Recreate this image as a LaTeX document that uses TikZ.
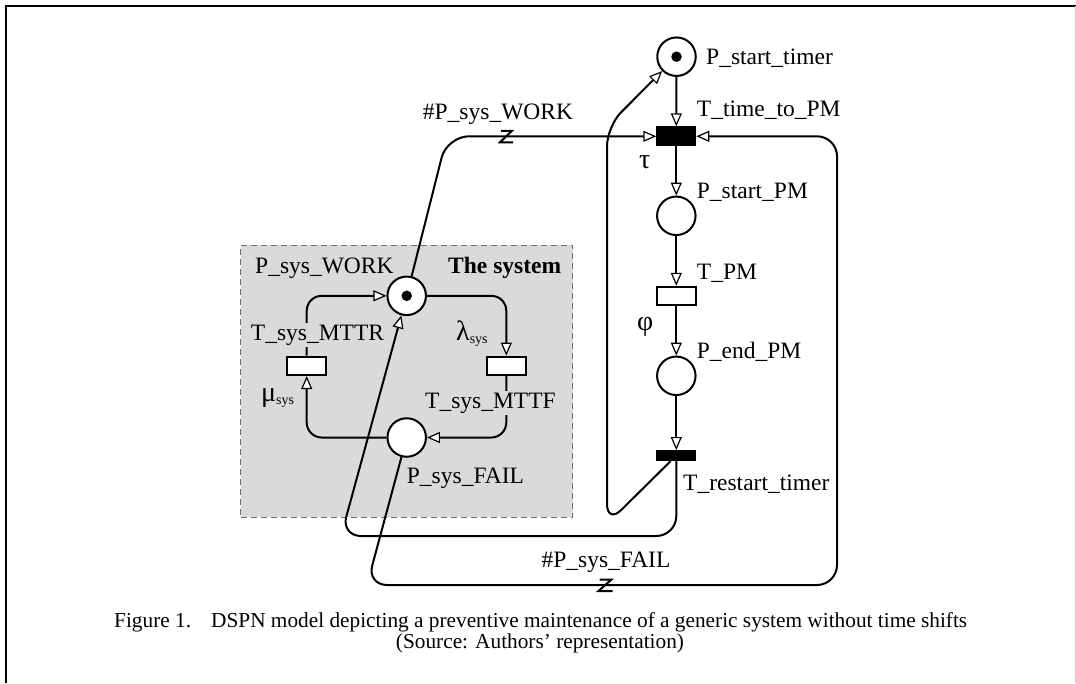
\documentclass[tikz,border=0pt]{standalone}
\usepackage{fontspec}
\setmainfont{Liberation Serif}
\usetikzlibrary{arrows.meta}
\definecolor{boxgray}{RGB}{218,218,218}
\definecolor{dashgray}{RGB}{110,110,110}
\newcommand{\grk}[1]{{\fontsize{28}{28}\selectfont #1}}
\newcommand{\subsys}{\raisebox{-3pt}{\fontsize{14}{14}\selectfont sys}}
\begin{document}
\begin{tikzpicture}[x=1pt,y=-1pt,
  lbl/.style={font=\fontsize{23.5}{26}\selectfont, inner sep=0pt},
  captxt/.style={font=\fontsize{21.3}{24}\selectfont, inner sep=0pt},
  place/.style={circle,draw,line width=2pt,minimum size=38.5pt,inner sep=0pt,fill=white},
  ttrans/.style={rectangle,draw,line width=2pt,minimum width=39pt,minimum height=18.5pt,inner sep=0pt,fill=white},
  dtrans/.style={rectangle,draw,fill=black,line width=1pt,minimum width=39pt,minimum height=19pt,inner sep=0pt},
  itrans/.style={rectangle,draw,fill=black,line width=1pt,minimum width=39pt,minimum height=10pt,inner sep=0pt},
  token/.style={circle,fill=black,minimum size=10.5pt,inner sep=0pt},
  arc/.style={line width=2pt,-{Triangle[fill=white,length=13pt,width=11pt,line width=1.2pt]}},
  zmark/.style={line width=2pt},
]
\useasboundingbox (0,0) rectangle (1076,683);
% frame
\draw[line width=2.4pt] (6,683) -- (6,6) -- (1076,6);
\draw[line width=0.8pt,gray!40] (1075.5,6) -- (1075.5,683);
% system box
\node[draw=dashgray,dash pattern=on 6pt off 4pt,line width=1pt,fill=boxgray,minimum width=332pt,minimum height=272pt,inner sep=0pt] (sysbox) at (406.7,381) {};
% places and transitions
\node[place] (Ps) at (676.5,56.7) {};
\node[dtrans] (Tt) at (676.3,136.3) {};
\node[place] (Psp) at (676.3,215.8) {};
\node[ttrans] (Tpm) at (676.3,296) {};
\node[place] (Pep) at (676.3,375.8) {};
\node[itrans] (Tr) at (676.3,455.5) {};
\node[place] (Pw) at (406.7,295.8) {};
\node[place] (Pf) at (406.7,437.5) {};
\node[ttrans] (Tm) at (306.7,365.8) {};
\node[ttrans] (Tf) at (506.3,365.8) {};
\node[token] (kw) at (Pw) {};
\node[token] (ks) at (Ps) {};
% column arcs
\draw[arc] (Ps) -- (Tt);
\draw[arc] (Tt) -- (Psp);
\draw[arc] (Psp) -- (Tpm);
\draw[arc] (Tpm) -- (Pep);
\draw[arc] (Pep) -- (Tr);
% system loop
\draw[arc,rounded corners=15pt] (Tm.north) -- (306.7,295.8) -- (Pw.west);
\draw[arc,rounded corners=15pt] (Pw.east) -- (506.3,295.8) -- (Tf.north);
\draw[arc,rounded corners=15pt] (Tf.south) -- (506.3,437.5) -- (Pf.east);
\draw[arc,rounded corners=15pt] (Pf.west) -- (306.7,437.5) -- (Tm.south);
% long arcs
\draw[arc,rounded corners=22pt] (Pw) -- (447,136.3) -- (Tt.west);
\draw[arc,rounded corners=20pt] (Tr) -- (607,524) -- (607,126.4) -- (Ps);
\draw[arc,rounded corners=20pt] (Tr.south) -- (676.3,536) -- (341,536) -- (Pw);
\draw[arc,rounded corners=20pt] (Pf) -- (367,585) -- (837,585) -- (837,136.3) -- (Tt.east);
% z marks
\coordinate (z1) at (506.5,136.3);
\coordinate (z2) at (606,585);
\draw[zmark] (z1) ++(-5.5,-5.5) -- ++(11,0) -- ++(-12,11.5) -- ++(13,0);
\draw[zmark] (z2) ++(-6.5,-5.5) -- ++(12,0) -- ++(-13,11.5) -- ++(14,0);
% labels
\node[lbl,anchor=base west] (lPs) at (706,64) {P\_start\_timer};
\node[lbl,anchor=base west] (lTt) at (696.7,116.5) {T\_time\_to\_PM};
\node[lbl,anchor=base west] (ltau) at (639,168) {\grk{τ}};
\node[lbl,anchor=base west] (lPsp) at (696.7,198.3) {P\_start\_PM};
\node[lbl,anchor=base west] (lTpm) at (696.7,279) {T\_PM};
\node[lbl,anchor=base west] (lphi) at (637,330) {\grk{φ}};
\node[lbl,anchor=base west] (lPep) at (696.7,358.3) {P\_end\_PM};
\node[lbl,anchor=base west] (lTr) at (683,490) {T\_restart\_timer};
\node[lbl,anchor=base] (lw) at (498,119) {\#P\_sys\_WORK};
\node[lbl,anchor=base] (lf) at (606,567) {\#P\_sys\_FAIL};
\node[lbl,anchor=base west] (lPw) at (255,273.3) {P\_sys\_WORK};
\node[lbl,anchor=base west] (lsys) at (448,273.3) {\bfseries The system};
\node[lbl,anchor=base west,fill=boxgray,inner ysep=2pt] (lTm) at (250.7,340) {T\_sys\_MTTR};
\node[lbl,anchor=base west] (llam) at (456,340) {\grk{λ}\subsys};
\node[lbl,anchor=base west,fill=boxgray,inner ysep=2pt] (lTf) at (425,408.3) {T\_sys\_MTTF};
\node[lbl,anchor=base west] (lmu) at (261,401.7) {\grk{μ}\subsys};
\node[lbl,anchor=base west] (lPf) at (406.7,483.3) {P\_sys\_FAIL};
% caption
\node[captxt,anchor=base west] (cap1) at (114,627.5) {Figure 1.};
\node[captxt,anchor=base west] (cap2) at (211,627.5) {DSPN model depicting a preventive maintenance of a generic system without time shifts};
\node[captxt,anchor=base] (cap3) at (540,648.5) {(Source: Authors’ representation)};
\end{tikzpicture}
\end{document}
